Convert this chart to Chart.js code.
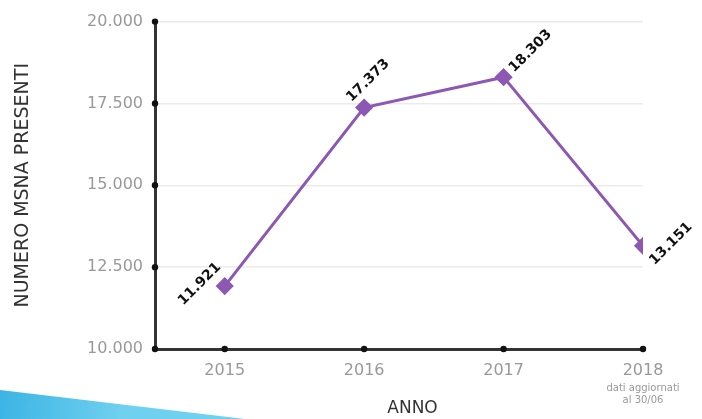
<!DOCTYPE html>
<html>
<head>
<meta charset="utf-8">
<script src="https://cdn.jsdelivr.net/npm/chart.js@4.4.0/dist/chart.umd.min.js"></script>
<style>
  html, body { margin: 0; padding: 0; background: #fff; }
  #wrap { width: 702px; height: 419px; }
</style>
</head>
<body>
<div id="wrap"><canvas id="msnaChart"></canvas></div>
<script>
const years = [2015, 2016, 2017, 2018];
const presenti = [11921, 17373, 18303, 13151];
const yTicks = [10000, 12500, 15000, 17500, 20000];
const noteLines = ['dati aggiornati', 'al 30/06'];

const fmt = v => v.toLocaleString('de-DE');
const FONT = '"DejaVu Sans", "Noto Sans", sans-serif';

// decorazioni: punti sugli assi, etichette dati, nota 2018, fascia blu
const extras = {
    id: 'extras',
    beforeDraw(chart) {
        const ctx = chart.ctx;
        ctx.save();
        const g = ctx.createLinearGradient(0, 392, 120, 419);
        g.addColorStop(0, '#3bb4e4');
        g.addColorStop(1, '#6fd0ef');
        ctx.fillStyle = g;
        ctx.beginPath();
        ctx.moveTo(0, 390);
        ctx.lineTo(245, 419);
        ctx.lineTo(0, 419);
        ctx.closePath();
        ctx.fill();
        ctx.restore();
    },
    afterDraw(chart) {
        const ctx = chart.ctx;
        const x = chart.scales.x, y = chart.scales.y;
        ctx.save();
        ctx.fillStyle = '#111';
        yTicks.forEach(t => {
            ctx.beginPath();
            ctx.arc(x.left, y.getPixelForValue(t), 3.2, 0, Math.PI * 2);
            ctx.fill();
        });
        years.forEach(t => {
            ctx.beginPath();
            ctx.arc(x.getPixelForValue(t), y.bottom, 3.2, 0, Math.PI * 2);
            ctx.fill();
        });

        // nota sotto il 2018
        ctx.fillStyle = '#999';
        ctx.font = '10px ' + FONT;
        ctx.textAlign = 'center';
        ctx.textBaseline = 'middle';
        const nx = x.getPixelForValue(2018);
        noteLines.forEach((l, i) => ctx.fillText(l, nx, 388 + i * 12));

        // etichette ruotate
        const meta = chart.getDatasetMeta(0);
        const offs = [[-25, -2], [4, -27], [27, -26], [28, -2]];
        ctx.fillStyle = '#111';
        ctx.font = 'bold 14px ' + FONT;
        meta.data.forEach((p, i) => {
            const [dx, dy] = offs[i];
            ctx.save();
            ctx.translate(p.x + dx, p.y + dy);
            ctx.rotate(-Math.PI / 4);
            ctx.textAlign = 'center';
            ctx.textBaseline = 'middle';
            ctx.fillText(fmt(presenti[i]), 0, 0);
            ctx.restore();
        });
        ctx.restore();
    }
};

new Chart(document.getElementById('msnaChart'), {
    type: 'line',
    data: {
        datasets: [{
            data: years.map((yr, i) => ({ x: yr, y: presenti[i] })),
            borderColor: '#8c58b3',
            backgroundColor: '#8c58b3',
            borderWidth: 3,
            pointStyle: 'rectRot',
            pointRadius: 7,
            pointHoverRadius: 7,
            tension: 0
        }]
    },
    options: {
        responsive: true,
        maintainAspectRatio: false,
        animation: false,
        layout: { padding: { left: 0, right: 59, top: 20, bottom: 0 } },
        plugins: { legend: { display: false }, tooltip: { enabled: false } },
        scales: {
            x: {
                type: 'linear',
                min: 2014.5,
                max: 2018,
                afterFit: s => { s.height = 70; },
                afterBuildTicks: s => { s.ticks = years.map(v => ({ value: v })); },
                grid: { display: false, drawTicks: false },
                border: { display: true, color: '#333', width: 3 },
                ticks: {
                    color: '#999',
                    padding: 12,
                    font: { family: FONT, size: 16 },
                    callback: v => String(v)
                },
                title: {
                    display: true,
                    text: '     ANNO',
                    color: '#333',
                    font: { family: FONT, size: 17 },
                    padding: { top: 0, bottom: 0 }
                }
            },
            y: {
                min: 10000,
                max: 20000,
                afterFit: s => { s.width = 155; },
                afterBuildTicks: s => { s.ticks = yTicks.map(v => ({ value: v })); },
                grid: { color: '#ebebeb', lineWidth: 1.5, drawTicks: false },
                border: { display: true, color: '#333', width: 3 },
                ticks: {
                    color: '#999',
                    padding: 12,
                    font: { family: FONT, size: 16 },
                    callback: v => fmt(v)
                },
                title: {
                    display: true,
                    text: 'NUMERO MSNA PRESENTI',
                    color: '#333',
                    font: { family: FONT, size: 19 },
                    padding: { top: 12 }
                }
            }
        }
    },
    plugins: [extras]
});
</script>
</body>
</html>
